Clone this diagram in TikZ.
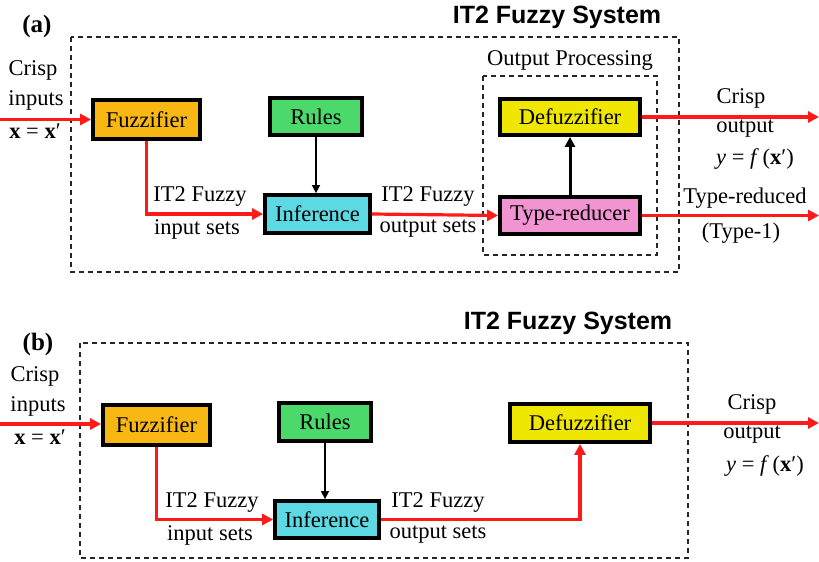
\documentclass[tikz,border=0pt]{standalone}
\usepackage{fontspec}
\setmainfont{Liberation Serif}
\newfontfamily\headfont{Liberation Sans}
\usetikzlibrary{arrows.meta}
\definecolor{cfuzz}{HTML}{F9B714}
\definecolor{crules}{HTML}{4CD96C}
\definecolor{cinf}{HTML}{5CD9E2}
\definecolor{cdef}{HTML}{EFE602}
\definecolor{ctype}{HTML}{F293D2}
\definecolor{cred}{HTML}{FF1A1A}
\begin{document}
\begin{tikzpicture}[x=1pt,y=-1pt,
  every node/.style={font=\fontsize{22.5}{25}\selectfont},
  blk/.style={draw=black,line width=3.8pt,inner sep=0pt},
  lbl/.style={inner sep=0pt,align=center},
  redarr/.style={draw=cred,line width=3.2pt,-{Triangle[length=11pt,width=11pt]}},
  thinarr/.style={draw=black,line width=1.5pt,-{Triangle[length=8pt,width=8pt]}},
  thickarr/.style={draw=black,line width=3pt,-{Triangle[length=10pt,width=10pt]}},
  dbox/.style={draw=black!85,line width=2pt,dash pattern=on 5pt off 4pt},
  head/.style={inner sep=0pt,font=\headfont\bfseries\fontsize{25}{28}\selectfont},
  tag/.style={inner sep=0pt,font=\bfseries\fontsize{25}{28}\selectfont}]
\useasboundingbox (0,0) rectangle (819,562);

% ---------------- panel (a) ----------------
\node[tag] (taga) at (37,26) {(a)};
\node[head] (heada) at (557,17) {IT2 Fuzzy System};
\draw[dbox] (71,37) rectangle (679,272);
\draw[dbox] (483,76) rectangle (657,255);
\node[lbl] (opa) at (570,60) {Output Processing};

\node[blk,fill=cfuzz,minimum width=107pt,minimum height=39pt] (fa) at (146.5,119.5) {Fuzzifier};
\node[blk,fill=crules,minimum width=92pt,minimum height=37pt] (ra) at (316,116.5) {Rules};
\node[blk,fill=cinf,minimum width=105pt,minimum height=38pt] (ia) at (317.5,214) {Inference};
\node[blk,fill=cdef,minimum width=140pt,minimum height=36pt] (da) at (570,117) {Defuzzifier};
\node[blk,fill=ctype,minimum width=140pt,minimum height=37pt] (ta) at (570,215.5) {Type-reducer};

\coordinate (ina) at (0,119.5);
\coordinate (outa1) at (819,117);
\coordinate (outa2) at (819,215.5);

\draw[redarr] (ina) -- (fa.west);
\draw[redarr] (fa.south) |- (ia.west);
\draw[thinarr] (ra.south) -- (ra.south |- ia.north);
\draw[redarr] (ia.east) -- (ta.west);
\draw[thickarr] (ta.north) -- (da.south);
\draw[redarr] (da.east) -- (outa1);
\draw[redarr] (ta.east) -- (outa2);

\node[lbl] (ca1) at (33,70) {Crisp};
\node[lbl] (ca2) at (36,100) {inputs};
\node[lbl] (ca3) at (35,131) {\textbf{x} = \textbf{x}′};
\node[lbl] (fla1) at (200,196) {IT2 Fuzzy};
\node[lbl] (fla2) at (197,229) {input sets};
\node[lbl] (foa1) at (428,196) {IT2 Fuzzy};
\node[lbl] (foa2) at (428,229) {output sets};
\node[lbl] (coa1) at (741,98) {Crisp};
\node[lbl] (coa2) at (745,129) {output};
\node[lbl] (coa3) at (755,159) {\textit{y} = \textit{f}\,(\textbf{x}′)};
\node[lbl] (tra1) at (745,198) {Type-reduced};
\node[lbl] (tra2) at (741,233) {(Type-1)};

% ---------------- panel (b) ----------------
\node[tag] (tagb) at (38,344) {(b)};
\node[head] (headb) at (568,323) {IT2 Fuzzy System};
\draw[dbox] (80,343) rectangle (688,558);

\node[blk,fill=cfuzz,minimum width=107pt,minimum height=40pt] (fb) at (156.5,425) {Fuzzifier};
\node[blk,fill=crules,minimum width=92pt,minimum height=38pt] (rb) at (325,422) {Rules};
\node[blk,fill=cinf,minimum width=104pt,minimum height=37pt] (ib) at (327,519.5) {Inference};
\node[blk,fill=cdef,minimum width=140pt,minimum height=38pt] (db) at (580,423) {Defuzzifier};

\coordinate (inb) at (0,424);
\coordinate (outb) at (819,423);

\draw[redarr] (inb) -- (inb -| fb.west);
\draw[redarr] (fb.south) |- (ib.west);
\draw[thinarr] (rb.south) -- (rb.south |- ib.north);
\draw[redarr] (ib.east) -| (db.south);
\draw[redarr] (db.east) -- (outb);

\node[lbl] (cb1) at (35,376) {Crisp};
\node[lbl] (cb2) at (38,406) {inputs};
\node[lbl] (cb3) at (40,437) {\textbf{x} = \textbf{x}′};
\node[lbl] (flb1) at (212,502) {IT2 Fuzzy};
\node[lbl] (flb2) at (210,535) {input sets};
\node[lbl] (fob1) at (438,502) {IT2 Fuzzy};
\node[lbl] (fob2) at (438,535) {output sets};
\node[lbl] (cob1) at (752,404) {Crisp};
\node[lbl] (cob2) at (752,435) {output};
\node[lbl] (cob3) at (765,466) {\textit{y} = \textit{f}\,(\textbf{x}′)};
\end{tikzpicture}
\end{document}
